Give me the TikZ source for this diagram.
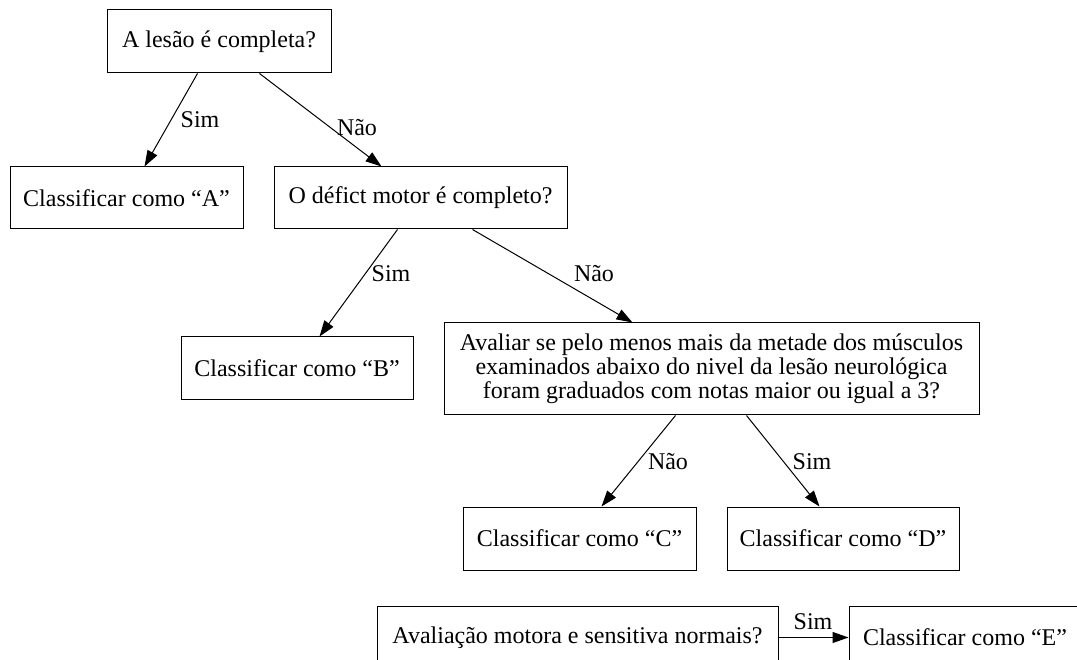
\documentclass[tikz,border=0pt]{standalone}
\usepackage{fontspec}
\setmainfont{Liberation Serif}
\usetikzlibrary{arrows.meta}
\tikzset{
  box/.style={draw, line width=1pt, inner sep=0pt, align=center,
    font=\fontsize{24}{24}\selectfont},
  lab/.style={inner sep=0pt, font=\fontsize{24}{24}\selectfont},
  edge/.style={line width=1pt, -{Triangle[length=16pt,width=11pt]}},
}
\begin{document}
\begin{tikzpicture}[x=1pt,y=-1pt]
\useasboundingbox (0,0) rectangle (1077,660);
\clip (0,0) rectangle (1077,660);
\node[box, minimum width=224pt, minimum height=63pt] (q1) at (219,41.5) {A lesão é completa?};
\node[box, minimum width=233pt, minimum height=62pt] (ca) at (126.5,198) {Classificar como “A”};
\node[box, minimum width=293pt, minimum height=62pt] (q2) at (420.5,198) {O défict motor é completo?};
\node[box, minimum width=232pt, minimum height=63pt] (cb) at (297,368.5) {Classificar como “B”};
\node[box, minimum width=535pt, minimum height=92pt] (q3) at (711.5,369) {Avaliar se pelo menos mais da metade dos músculos\\examinados abaixo do nivel da lesão neurológica\\foram graduados com notas maior ou igual a 3?};
\node[box, minimum width=233pt, minimum height=63pt] (cc) at (579.5,538.5) {Classificar como “C”};
\node[box, minimum width=232pt, minimum height=63pt] (cd) at (843,538.5) {Classificar como “D”};
\node[box, minimum width=401pt, minimum height=63pt] (q4) at (577.5,637.5) {Avaliação motora e sensitiva normais?};
\node[box, minimum width=232pt, minimum height=63pt] (ce) at (965,637.5) {Classificar como “E”};

\draw[edge] ([xshift=91pt]q1.south west) -- ([xshift=135pt]ca.north west);
\draw[edge] ([xshift=153pt]q1.south west) -- ([xshift=108pt]q2.north west);
\draw[edge] ([xshift=124pt]q2.south west) -- ([xshift=139pt]cb.north west);
\draw[edge] ([xshift=199pt]q2.south west) -- ([xshift=189pt]q3.north west);
\draw[edge] ([xshift=232pt]q3.south west) -- ([xshift=139pt]cc.north west);
\draw[edge] ([xshift=303pt]q3.south west) -- ([xshift=93pt]cd.north west);
\draw[edge] (q4.east) -- (ce.west);

\node[lab] (l1) at (200,120) {Sim};
\node[lab] (l2) at (357,128) {Não};
\node[lab] (l3) at (391,274) {Sim};
\node[lab] (l4) at (594,274) {Não};
\node[lab] (l5) at (668,462) {Não};
\node[lab] (l6) at (812,462) {Sim};
\node[lab] (l7) at (813,622) {Sim};
\end{tikzpicture}
\end{document}
